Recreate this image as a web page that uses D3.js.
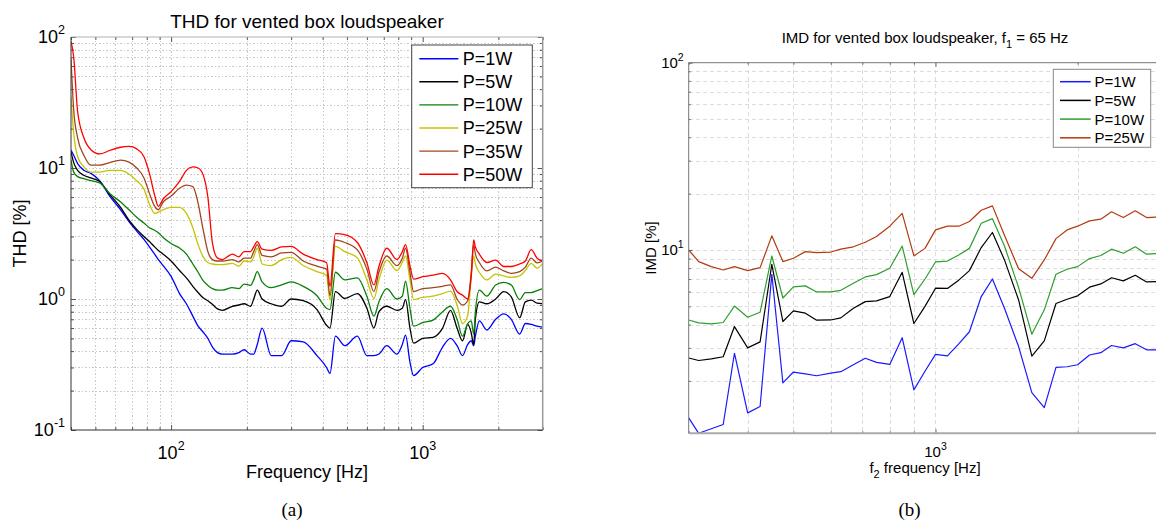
<!DOCTYPE html>
<html>
<head>
<meta charset="utf-8">
<script src="https://cdn.jsdelivr.net/npm/d3@7"></script>
<style>
  body { margin: 0; background: #fff; }
  text { font-family: "Liberation Sans", Arial, Helvetica, sans-serif; fill: #000; }
</style>
</head>
<body>
<svg id="fig" width="1156" height="527"></svg>
<script>
// ---- (a) THD, frequency grid in Hz ----
const thdFreq = [
  40, 41, 42.5, 45, 48, 52, 57, 63, 68, 73,
  78, 82, 86, 89, 93, 100, 108, 115, 122, 128,
  134, 140, 146, 153, 160, 175, 186, 195, 207, 213,
  220, 230, 250, 275, 300, 335, 380, 415, 428, 450,
  490, 550, 600, 640, 670, 720, 790, 830, 855, 890,
  920, 1000, 1100, 1200, 1290, 1370, 1440, 1510, 1560, 1595,
  1620, 1680, 1800, 1950, 2100, 2250, 2430, 2560, 2700, 2850,
  3000
];
// THD [%] per power level
const thd1W = [
  13.7, 12.5, 10.8, 9.6, 9.1, 8.0, 6.1, 4.8, 3.9, 3.3,
  2.85, 2.5, 2.2, 2.0, 1.8, 1.49, 1.1, 0.92, 0.74, 0.62,
  0.56, 0.5, 0.43, 0.39, 0.38, 0.38, 0.39, 0.41, 0.38, 0.38,
  0.45, 0.6, 0.37, 0.37, 0.48, 0.47, 0.37, 0.3, 0.27, 0.52,
  0.44, 0.52, 0.37, 0.37, 0.38, 0.44, 0.38, 0.45, 0.53, 0.33,
  0.26, 0.3, 0.32, 0.43, 0.5, 0.44, 0.37, 0.45, 0.48, 0.44,
  0.52, 0.68, 0.58, 0.7, 0.77, 0.7, 0.54, 0.65, 0.64, 0.62,
  0.61
];
const thd5W = [
  13.3, 11.0, 9.6, 8.8, 8.4, 7.9, 6.3, 5.0, 4.0, 3.4,
  3.0, 2.75, 2.5, 2.35, 2.2, 1.95, 1.65, 1.45, 1.25, 1.12,
  1.02, 0.97, 0.91, 0.84, 0.82, 0.88, 0.9, 0.92, 0.88, 1.0,
  1.17, 1.0, 0.92, 0.88, 1.0, 0.97, 0.83, 0.63, 0.6, 1.14,
  1.01, 1.1, 0.85, 0.6, 0.8, 0.88, 0.82, 0.85, 0.99, 0.6,
  0.46, 0.5, 0.51, 0.6, 0.82, 0.6, 0.48, 0.64, 0.55, 0.45,
  0.7, 0.95, 0.92, 1.0, 1.14, 1.04, 0.72, 0.95, 0.98, 0.93,
  0.92
];
const thd10W = [
  11.5, 9.3, 8.6, 8.3, 8.0, 7.7, 6.4, 5.5, 4.8, 4.2,
  3.8, 3.5, 3.35, 3.2, 2.95, 2.65, 2.45, 2.2, 1.85, 1.6,
  1.38, 1.27, 1.2, 1.17, 1.17, 1.22, 1.2, 1.3, 1.27, 1.4,
  1.62, 1.35, 1.22, 1.28, 1.35, 1.25, 1.06, 0.85, 0.83, 1.6,
  1.4, 1.45, 1.05, 0.74, 0.95, 1.2, 1.0, 1.05, 1.37, 0.85,
  0.62, 0.66, 0.69, 0.8, 0.88, 0.7, 0.52, 0.65, 0.68, 0.54,
  0.8, 1.17, 1.05, 1.28, 1.34, 1.28, 0.99, 1.12, 1.12, 1.16,
  1.2
];
const thd25W = [
  35, 18.4, 12.2, 10.2, 9.3, 9.3, 9.6, 9.6, 9.0, 8.0,
  6.9, 5.3, 4.5, 4.6, 4.8, 5.0, 5.0, 4.5, 3.5, 2.6,
  2.1, 1.9, 1.85, 1.83, 1.83, 1.87, 1.78, 1.95, 1.92, 2.1,
  2.44, 1.85, 1.8, 2.0, 2.08, 1.8, 1.62, 1.51, 0.98, 2.52,
  2.3, 2.06, 1.40, 1.01, 1.40, 1.98, 1.65, 1.9, 2.13, 1.4,
  0.99, 1.03, 1.05, 1.1, 1.15, 0.9, 0.65, 0.75, 1.5, 2.13,
  1.85, 1.6, 1.4, 1.55, 1.5, 1.46, 1.5, 1.65, 1.87, 1.72,
  1.87
];
const thd35W = [
  68, 27.7, 17, 12.5, 10.5, 10.5, 11.0, 11.5, 11.1, 10.0,
  8.4, 6.4, 5.1, 4.8, 5.5, 6.1, 7.0, 7.4, 7.2, 5.4,
  3.4, 2.3, 2.0, 1.95, 1.95, 2.0, 1.92, 2.05, 2.05, 2.3,
  2.6, 2.15, 2.1, 2.25, 2.27, 1.95, 1.78, 1.69, 1.06, 2.82,
  2.7, 2.37, 1.69, 1.14, 1.6, 2.13, 1.8, 2.05, 2.44, 1.6,
  1.14, 1.2, 1.22, 1.25, 1.28, 1.0, 0.9, 0.97, 1.6, 2.6,
  2.2, 1.9, 1.64, 1.75, 1.64, 1.57, 1.62, 1.75, 2.05, 1.89,
  1.95
];
const thd50W = [
  93, 70, 27, 17, 13.8, 12.8, 13.6, 14.4, 14.6, 14.0,
  12.2, 9.1, 6.2, 5.1, 5.8, 6.6, 7.9, 9.6, 10.2, 10.0,
  8.9, 6.0, 2.67, 2.05, 2.0, 2.2, 2.1, 2.3, 2.3, 2.5,
  2.74, 2.4, 2.35, 2.5, 2.52, 2.2, 2.0, 1.89, 1.25, 3.16,
  3.1, 2.7, 1.89, 1.28, 1.77, 2.44, 2.0, 2.3, 2.6, 1.8,
  1.42, 1.48, 1.52, 1.57, 1.4, 1.14, 1.07, 1.0, 1.5, 2.82,
  2.5, 2.2, 1.9, 1.98, 1.77, 1.77, 1.85, 1.95, 2.38, 2.05,
  1.95
];
const thdNames = ["P=1W", "P=5W", "P=10W", "P=25W", "P=35W", "P=50W"];

// ---- (b) IMD, f2 grid in Hz (1/12 octave) ----
const imdFreq = [
  300, 315, 335, 355, 375, 400, 425, 450, 475, 500,
  530, 560, 600, 630, 670, 710, 750, 800, 850, 900,
  950, 1000, 1060, 1120, 1180, 1250, 1320, 1400, 1500, 1600,
  1700, 1800, 1900, 2000, 2120, 2240, 2360, 2500, 2650, 2800,
  3000
];
const imd1W = [
  1.27, 1.05, 1.11, 1.17, 2.81, 1.35, 1.46, 7.42, 1.95, 2.23,
  2.18, 2.13, 2.20, 2.24, 2.44, 2.64, 2.51, 2.45, 3.40, 1.79,
  2.25, 2.77, 2.72, 3.15, 3.66, 5.64, 7.0, 4.89, 3.05, 1.73,
  1.44, 2.36, 2.38, 2.44, 2.75, 2.83, 3.09, 3.0, 3.16, 2.93,
  2.93
];
const imd5W = [
  2.65, 2.57, 2.62, 2.69, 3.90, 3.0, 3.23, 8.39, 4.15, 4.73,
  4.6, 4.22, 4.23, 4.34, 4.89, 5.30, 5.35, 5.64, 7.6, 4.05,
  5.0, 6.25, 6.23, 6.9, 7.76, 10.3, 12.4, 8.85, 5.41, 2.71,
  3.27, 5.18, 5.46, 5.69, 6.33, 6.59, 7.11, 6.84, 7.33, 6.75,
  6.78
];
const imd10W = [
  4.23, 4.08, 4.03, 4.10, 5.02, 4.37, 4.65, 9.29, 5.54, 6.35,
  6.43, 5.97, 5.97, 6.09, 6.64, 7.18, 7.39, 7.99, 10.5, 5.78,
  7.0, 8.63, 8.73, 9.4, 10.2, 13.9, 14.7, 10.5, 6.3, 3.55,
  4.79, 7.42, 7.89, 8.15, 9.0, 9.34, 10.1, 9.6, 10.4, 9.5,
  9.6
];
const imd25W = [
  10.0, 8.67, 8.15, 7.82, 8.15, 7.76, 8.05, 11.9, 8.67, 9.03,
  9.8, 9.68, 9.75, 10.1, 10.4, 11.0, 11.8, 13.4, 15.7, 9.3,
  10.2, 12.8, 13.4, 13.4, 14.2, 16.3, 17.2, 12.0, 7.93, 7.06,
  8.85, 11.5, 12.8, 13.4, 14.3, 14.6, 16.0, 14.9, 16.2, 14.9,
  15.0
];
const imdNames = ["P=1W", "P=5W", "P=10W", "P=25W"];

const thdColors = ["#0000ff", "#000000", "#0a800a", "#c4c400", "#a0461e", "#ff0000"];
const imdColors = ["#1a1aff", "#000000", "#2f9e2f", "#b33a0c"];

const svg = d3.select("#fig");

function sup(sel, base, exp, baseSize, expSize, lift) {
  sel.append("tspan").style("font-size", baseSize + "px").text(base);
  sel.append("tspan").style("font-size", expSize + "px").attr("dy", -lift).text(exp);
}

function panel(o) {
  const g = svg.append("g");
  const x = d3.scaleLog().domain(o.xDomain).range([o.x0, o.x1]);
  const y = d3.scaleLog().domain(o.yDomain).range([o.y1, o.y0]);
  const isMajor = v => Math.abs(Math.log10(v) - Math.round(Math.log10(v))) < 1e-9;

  // grid
  const grid = g.append("g")
    .attr("stroke", o.gridColor).attr("stroke-width", 1)
    .attr("stroke-dasharray", o.gridDash).attr("shape-rendering", "crispEdges");
  grid.selectAll(".gx").data(x.ticks().filter(v => x(v) > o.x0 + 1 && x(v) < o.x1 - 1))
    .join("line").attr("class", "gx")
    .attr("x1", d => Math.round(x(d)) + 0.5).attr("x2", d => Math.round(x(d)) + 0.5)
    .attr("y1", o.y0).attr("y2", o.y1);
  grid.selectAll(".gy").data(y.ticks().filter(v => y(v) > o.y0 + 1 && y(v) < o.y1 - 1))
    .join("line").attr("class", "gy")
    .attr("y1", d => Math.round(y(d)) + 0.5).attr("y2", d => Math.round(y(d)) + 0.5)
    .attr("x1", o.x0).attr("x2", o.x1);

  // ticks (inward, both sides)
  const xt = x.ticks(), yt = y.ticks();
  const tickAxes = [
    [d3.axisBottom, `translate(0,${o.y1})`, x, xt],
    [d3.axisTop, `translate(0,${o.y0})`, x, xt],
    [d3.axisLeft, `translate(${o.x0},0)`, y, yt],
    [d3.axisRight, `translate(${o.x1},0)`, y, yt]
  ];
  tickAxes.forEach(([ax, tr, sc, vals]) => {
    [[vals.filter(v => !isMajor(v)), -o.minorLen], [vals.filter(isMajor), -o.majorLen]].forEach(([tv, len]) => {
      g.append("g").attr("transform", tr)
        .call(ax(sc).tickValues(tv).tickSize(len).tickFormat(""))
        .call(a => a.select(".domain").remove())
        .call(a => a.selectAll("line").attr("stroke", o.tickColor));
    });
  });

  // lines
  const clipId = "clip" + o.id;
  svg.append("clipPath").attr("id", clipId).append("rect")
    .attr("x", o.x0).attr("y", o.y0).attr("width", o.x1 - o.x0).attr("height", o.y1 - o.y0);
  const line = d3.line()
    .x((d, i) => x(o.freq[i]))
    .y(d => y(d))
    .curve(o.curve);
  g.append("g").attr("clip-path", `url(#${clipId})`)
    .selectAll("path").data(o.series).join("path")
    .attr("d", d => line(d))
    .attr("fill", "none")
    .attr("stroke", (d, i) => o.colors[i])
    .attr("stroke-width", o.lineWidth)
    .attr("stroke-linejoin", "round");

  // frame
  g.append("line").attr("x1", o.x0).attr("x2", o.x1).attr("y1", o.y0).attr("y2", o.y0)
    .attr("stroke", o.topColor).attr("stroke-width", 1);
  g.append("line").attr("x1", o.x1).attr("x2", o.x1).attr("y1", o.y0).attr("y2", o.y1)
    .attr("stroke", o.rightColor).attr("stroke-width", o.rightWidth);
  g.append("line").attr("x1", o.x0).attr("x2", o.x1).attr("y1", o.y1).attr("y2", o.y1)
    .attr("stroke", o.bottomColor).attr("stroke-width", o.bottomWidth);
  g.append("line").attr("x1", o.x0).attr("x2", o.x0).attr("y1", o.y0).attr("y2", o.y1)
    .attr("stroke", o.leftColor).attr("stroke-width", 1);

  // tick labels  10^n
  yt.filter(isMajor).forEach(v => {
    const t = g.append("text").attr("x", o.x0 - o.yLabGap).attr("y", y(v) + o.fs * 0.36)
      .attr("text-anchor", "end");
    sup(t, "10", String(Math.round(Math.log10(v))), o.fs, o.fsExp, o.lift);
  });
  xt.filter(isMajor).forEach(v => {
    const t = g.append("text").attr("x", x(v)).attr("y", o.xLabY).attr("text-anchor", "middle");
    sup(t, "10", String(Math.round(Math.log10(v))), o.fs, o.fsExp, o.lift);
  });

  // legend
  const lg = g.append("g");
  lg.append("rect").attr("x", o.leg.x).attr("y", o.leg.y).attr("width", o.leg.w).attr("height", o.leg.h)
    .attr("fill", "#fff").attr("stroke", o.leg.stroke).attr("stroke-width", 1);
  o.names.forEach((n, i) => {
    const yy = o.leg.y0 + i * o.leg.dy;
    lg.append("line").attr("x1", o.leg.lx0).attr("x2", o.leg.lx1).attr("y1", yy).attr("y2", yy)
      .attr("stroke", o.colors[i]).attr("stroke-width", o.leg.lw);
    lg.append("text").attr("x", o.leg.tx).attr("y", yy + o.leg.fs * 0.36)
      .style("font-size", o.leg.fs + "px").text(n);
  });
  return { x, y };
}

// (a) THD panel
panel({
  id: "a", x0: 71, x1: 542.7, y0: 37, y1: 430,
  xDomain: [40, 3000], yDomain: [0.1, 100],
  freq: thdFreq, series: [thd1W, thd5W, thd10W, thd25W, thd35W, thd50W],
  colors: thdColors, names: thdNames, curve: d3.curveMonotoneX, lineWidth: 1.3,
  gridColor: "#c9c9c9", gridDash: "1.5,2",
  tickColor: "#555", minorLen: 3, majorLen: 5,
  topColor: "#b0b0b0", rightColor: "#9a9a9a", rightWidth: 1.5, bottomColor: "#333", bottomWidth: 1.2, leftColor: "#333",
  fs: 18, fsExp: 12.5, lift: 9, yLabGap: 6, xLabY: 459,
  leg: { x: 411.7, y: 45, w: 120.6, h: 142.7, stroke: "#444", y0: 58.7, dy: 23.1,
         lx0: 419.3, lx1: 458.3, tx: 462.7, fs: 18, lw: 1.4 }
});

// (b) IMD panel
panel({
  id: "b", x0: 688.7, x1: 1160.7, y0: 62.7, y1: 433.3,
  xDomain: [300, 3000], yDomain: [1.05, 100],
  freq: imdFreq, series: [imd1W, imd5W, imd10W, imd25W],
  colors: imdColors, names: imdNames, curve: d3.curveLinear, lineWidth: 1.2,
  gridColor: "#dcdcdc", gridDash: "4,3",
  tickColor: "#666", minorLen: 2, majorLen: 4,
  topColor: "#777", rightColor: "#777", rightWidth: 1, bottomColor: "#aaa", bottomWidth: 2, leftColor: "#777",
  fs: 15, fsExp: 10.5, lift: 7, yLabGap: 5, xLabY: 457,
  leg: { x: 1053.3, y: 69.3, w: 97.4, h: 78, stroke: "#888", y0: 81.7, dy: 18.7,
         lx0: 1060, lx1: 1090.7, tx: 1094.5, fs: 15, lw: 1.5 }
});

// titles and axis labels
svg.append("text").attr("x", 307).attr("y", 28).attr("text-anchor", "middle")
  .style("font-size", "19px").text("THD for vented box loudspeaker");
svg.append("text").attr("transform", "translate(26,233.5) rotate(-90)").attr("text-anchor", "middle")
  .style("font-size", "18px").text("THD [%]");
svg.append("text").attr("x", 307).attr("y", 478).attr("text-anchor", "middle")
  .style("font-size", "18px").text("Frequency [Hz]");

const tb = svg.append("text").attr("x", 925).attr("y", 42.5).attr("text-anchor", "middle")
  .style("font-size", "15px");
tb.append("tspan").text("IMD for vented box loudspeaker, f");
tb.append("tspan").attr("dy", 5).style("font-size", "11px").text("1");
tb.append("tspan").attr("dy", -5).text(" = 65 Hz");

svg.append("text").attr("transform", "translate(656,248) rotate(-90)").attr("text-anchor", "middle")
  .style("font-size", "15px").text("IMD [%]");
const xb = svg.append("text").attr("x", 925).attr("y", 473).attr("text-anchor", "middle")
  .style("font-size", "15px");
xb.append("tspan").text("f");
xb.append("tspan").attr("dy", 5).style("font-size", "11px").text("2");
xb.append("tspan").attr("dy", -5).text(" frequency [Hz]");

svg.append("text").attr("x", 292).attr("y", 516).attr("text-anchor", "middle")
  .style("font-family", "'Liberation Serif', 'DejaVu Serif', serif").style("font-size", "19px").text("(a)");
svg.append("text").attr("x", 909.5).attr("y", 516).attr("text-anchor", "middle")
  .style("font-family", "'Liberation Serif', 'DejaVu Serif', serif").style("font-size", "19px").text("(b)");
</script>
</body>
</html>
